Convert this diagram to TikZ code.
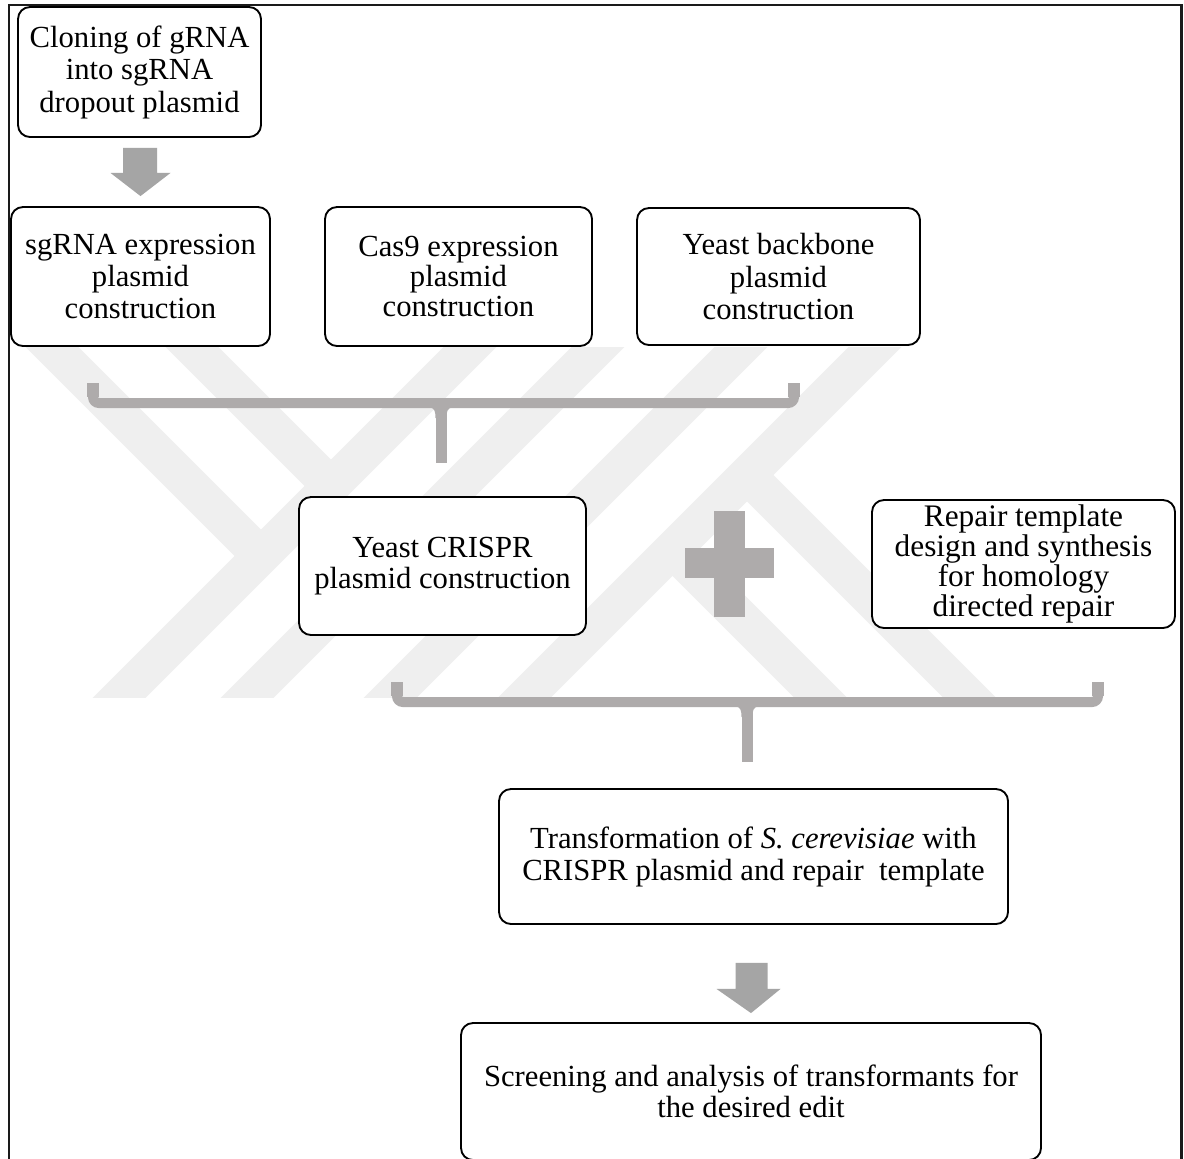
\documentclass[tikz,border=0pt]{standalone}
\usepackage{fontspec}
\setmainfont{Liberation Serif}
\usetikzlibrary{calc}
\definecolor{wm}{HTML}{EFEFEF}
\definecolor{brk}{HTML}{AEABAB}
\definecolor{arw}{HTML}{A5A5A5}
\definecolor{frm}{HTML}{1A1A1A}
\begin{document}
\begin{tikzpicture}[x=0.75pt,y=-0.75pt,
  box/.style={draw=black, line width=1.4pt, rounded corners=9pt, fill=white,
    align=center, inner sep=0pt, font=\fontsize{23}{24.2}\selectfont},
  band/.style={draw=wm, line width=28pt},
  brace/.style={draw=brk, line width=7.5pt, rounded corners=4.5pt},
  bracearm/.style={draw=brk, line width=9pt},
  stem/.style={draw=brk, line width=8.25pt},
  blockarrow/.style={fill=arw},
  plus/.style={fill=brk}]
\useasboundingbox (0,0) rectangle (1184,1158);
\clip (0,0) rectangle (1184,1158);
\fill[white] (0,0) rectangle (1184,1158);
% faint watermark
\begin{scope}
  \clip (12,347) rectangle (1178,697);
  \draw[band] (487,330) -- (102,715);
  \draw[band] (615,330) -- (230,715);
  \draw[band] (758,330) -- (373,715);
  \draw[band] (892,330) -- (507,715);
  \draw[band] (35,330) -- (261,556);
  \draw[band] (175,330) -- (331,486);
  \draw[band] (672.5,549.5) -- (838,715);
  \draw[band] (747,475) -- (987,715);
\end{scope}
% frame
\draw[frm, line width=1.9pt] (9,5) rectangle (1181.5,1200);
% boxes
\node[box, minimum width=182.25pt, minimum height=97.5pt, font=\fontsize{23}{24.4}\selectfont] (A) at (139.5,72) {Cloning of gRNA\\into sgRNA\\dropout plasmid};
\node[box, minimum width=194.25pt, minimum height=104.25pt, font=\fontsize{23}{24}\selectfont] (B) at (140.5,276.5) {sgRNA expression\\plasmid\\construction};
\node[box, minimum width=200.25pt, minimum height=104.25pt, font=\fontsize{23}{22.5}\selectfont] (C) at (458.5,276.5) {Cas9 expression\\plasmid\\construction};
\node[box, minimum width=212.25pt, minimum height=102.75pt, font=\fontsize{23}{24.4}\selectfont] (D) at (778.5,276.5) {Yeast backbone\\plasmid\\construction};
\node[box, minimum width=215.25pt, minimum height=103.5pt, font=\fontsize{23}{23.25}\selectfont] (E) at (442.5,566) {Yeast CRISPR\\plasmid construction};
\node[box, minimum width=227.25pt, minimum height=96pt, font=\fontsize{23.5}{22.5}\selectfont] (F) at (1023.5,564) {Repair template\\design and synthesis\\for homology\\directed repair};
\node[box, minimum width=381.75pt, minimum height=101.25pt, font=\fontsize{23}{24}\selectfont] (G) at (753.5,856.5) {Transformation of \textit{S. cerevisiae} with\\CRISPR plasmid and repair\ \ template};
\node[box, minimum width=435pt, minimum height=102.75pt, font=\fontsize{23}{23.25}\selectfont] (H) at (751,1091.5) {Screening and analysis of transformants for\\the desired edit};
% block arrow A -> B
\fill[blockarrow] ($(A.south)+(-16.5,10)$) -- ($(A.south)+(17.5,10)$) -- ($(A.south)+(17.5,35)$)
  -- ($(A.south)+(31,35)$) -- ($(B.north)+(0,-10)$) -- ($(A.south)+(-29,35)$)
  -- ($(A.south)+(-16.5,35)$) -- cycle;
% block arrow G -> H
\fill[blockarrow] ($(G.south)+(-18,38)$) -- ($(G.south)+(14,38)$) -- ($(G.south)+(14,64)$)
  -- ($(G.south)+(27,64)$) -- ($(H.north)+(0,-9)$) -- ($(G.south)+(-37,64)$)
  -- ($(G.south)+(-18,64)$) -- cycle;
% bracket 1 (B, C, D -> E)
\coordinate (b1l) at (93,383);
\coordinate (b1r) at (794,383);
\coordinate (b1m) at (441,403);
\coordinate (b1s) at (441,463);
\draw[brace] (b1l) -- ++(0,20) -| (b1r);
\draw[bracearm] (b1l) -- ++(0,14);
\draw[bracearm] (b1r) -- ++(0,14);
\draw[stem] (b1m) -- (b1s);
\fill[brk] ($(b1m)+(-12,4)$) .. controls ($(b1m)+(-6,5)$) and ($(b1m)+(-5.5,9)$) .. ($(b1m)+(-5.5,15)$)
  -- ($(b1m)+(5.5,15)$) .. controls ($(b1m)+(5.5,9)$) and ($(b1m)+(6,5)$) .. ($(b1m)+(12,4)$) -- cycle;
% plus sign (E + F)
\fill[plus] (713.5,510.5) rectangle (744.5,616.5);
\fill[plus] (684.5,548) rectangle (774,578);
% bracket 2 (E, F -> G)
\coordinate (b2l) at (397,682);
\coordinate (b2r) at (1098,682);
\coordinate (b2m) at (747,702);
\coordinate (b2s) at (747,762);
\draw[brace] (b2l) -- ++(0,20) -| (b2r);
\draw[bracearm] (b2l) -- ++(0,14);
\draw[bracearm] (b2r) -- ++(0,14);
\draw[stem] (b2m) -- (b2s);
\fill[brk] ($(b2m)+(-12,4)$) .. controls ($(b2m)+(-6,5)$) and ($(b2m)+(-5.5,9)$) .. ($(b2m)+(-5.5,15)$)
  -- ($(b2m)+(5.5,15)$) .. controls ($(b2m)+(5.5,9)$) and ($(b2m)+(6,5)$) .. ($(b2m)+(12,4)$) -- cycle;
\end{tikzpicture}
\end{document}
